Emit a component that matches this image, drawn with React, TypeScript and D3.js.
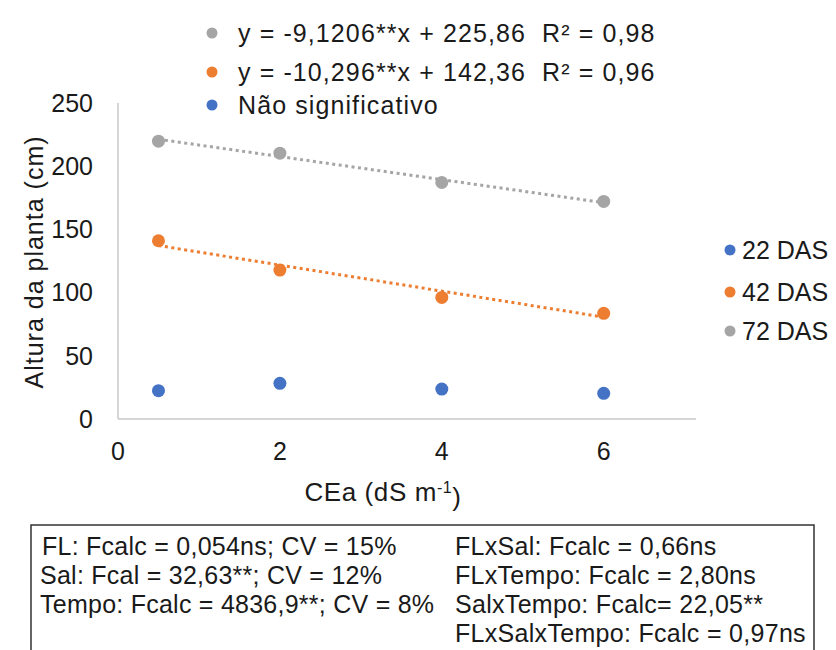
import React from "react";
import * as d3 from "d3";

const W = 836;
const H = 650;

const cea = [0.5, 2, 4, 6];
const das22 = [22.4, 28.2, 23.7, 20.3];
const das42 = [141.0, 117.8, 96.2, 83.6];
const das72 = [219.8, 210.3, 187.1, 172.1];

const seriesNames = ["22 DAS", "42 DAS", "72 DAS"];
const seriesColors = ["#4472C4", "#ED7D31", "#A5A5A5"];

// Linear fits (slope, intercept) for the significant series
const fit42 = [-10.296, 142.36];
const fit72 = [-9.1206, 225.86];

const xTicks = [0, 2, 4, 6];
const yTicks = [0, 50, 100, 150, 200, 250];

const eqLegend = [
  { text: "y = -9,1206**x + 225,86  R² = 0,98", color: "#A5A5A5" },
  { text: "y = -10,296**x + 142,36  R² = 0,96", color: "#ED7D31" },
  { text: "Não significativo", color: "#4472C4" },
];

const statsLeft = [
  "FL: Fcalc = 0,054ns; CV = 15%",
  "Sal: Fcal = 32,63**; CV = 12%",
  "Tempo: Fcalc = 4836,9**; CV = 8%",
];
const statsRight = [
  "FLxSal: Fcalc = 0,66ns",
  "FLxTempo: Fcalc = 2,80ns",
  "SalxTempo: Fcalc= 22,05**",
  "FLxSalxTempo: Fcalc = 0,97ns",
];

const FONT = "'Liberation Sans', Arial, sans-serif";
const FS = 25;

export default function App() {
  const x = d3.scaleLinear().domain([0, 7.14]).range([118, 696]);
  const y = d3.scaleLinear().domain([0, 250]).range([419, 103]);

  const series = [das22, das42, das72];
  const fits: [number[], string][] = [
    [fit72, seriesColors[2]],
    [fit42, seriesColors[1]],
  ];

  return (
    <div style={{ position: "absolute", left: 0, top: 0 }}>
      <svg width={W} height={H} style={{ display: "block", background: "#fff" }} fontFamily={FONT}>
        <rect x={0} y={0} width={W} height={H} fill="#fff" />

        {/* axes */}
        <line x1={x(0)} x2={x(0)} y1={y(250)} y2={y(0)} stroke="#C8C8C8" strokeWidth={1.5} />
        <line x1={x(0)} x2={x.range()[1]} y1={y(0)} y2={y(0)} stroke="#C8C8C8" strokeWidth={1.5} />

        {yTicks.map((t) => (
          <text key={"y" + t} x={93} y={y(t)} dy="0.35em" textAnchor="end" fontSize={FS} fill="#1a1a1a">
            {t}
          </text>
        ))}
        {xTicks.map((t) => (
          <text key={"x" + t} x={x(t)} y={451} dy="0.35em" textAnchor="middle" fontSize={FS} fill="#1a1a1a">
            {t}
          </text>
        ))}

        <text
          transform="translate(34,262) rotate(-90)"
          textAnchor="middle"
          dy="0.35em"
          fontSize={FS}
          letterSpacing={1}
          fill="#1a1a1a"
        >
          Altura da planta (cm)
        </text>
        <text x={383} y={492} dy="0.35em" textAnchor="middle" fontSize={26} letterSpacing={0.6} fill="#1a1a1a">
          CEa (dS m
          <tspan dy="-0.5em" fontSize={16}>-1</tspan>
          <tspan dy="0.5em">)</tspan>
        </text>

        {/* trendlines */}
        {fits.map(([f, c], i) => {
          const xs = [cea[0], cea[cea.length - 1]];
          const path = d3
            .line<number>()
            .x((d) => x(d))
            .y((d) => y(f[0] * d + f[1]))(xs);
          return (
            <path
              key={"fit" + i}
              d={path || ""}
              fill="none"
              stroke={c}
              strokeWidth={3}
              strokeDasharray="3,3.5"
            />
          );
        })}

        {/* points */}
        {series.map((vals, si) =>
          vals.map((v, i) => (
            <circle key={si + "-" + i} cx={x(cea[i])} cy={y(v)} r={6.5} fill={seriesColors[si]} />
          ))
        )}

        {/* equation legend */}
        {eqLegend.map((e, i) => {
          const cy = [33, 72, 105][i];
          return (
            <g key={"eq" + i}>
              <circle cx={212} cy={cy} r={5.5} fill={e.color} />
              <text
                x={238}
                y={cy}
                dy="0.35em"
                fontSize={FS}
                letterSpacing={1.1}
                fill="#1a1a1a"
                xmlSpace="preserve"
              >
                {e.text}
              </text>
            </g>
          );
        })}

        {/* series legend */}
        {seriesNames.map((n, i) => {
          const cy = [250, 292, 331][i];
          return (
            <g key={"lg" + i}>
              <circle cx={730} cy={cy} r={5.5} fill={seriesColors[i]} />
              <text x={742} y={cy} dy="0.35em" fontSize={FS} fill="#1a1a1a">
                {n}
              </text>
            </g>
          );
        })}

        {/* statistics box */}
        <path d={`M31,${H + 2} L31,525 L814,525 L814,${H + 2}`} fill="none" stroke="#333" strokeWidth={1.5} />
        {statsLeft.map((s, i) => (
          <text
            key={"sl" + i}
            x={i === 0 ? 42 : 40}
            y={546 + i * 29}
            dy="0.35em"
            fontSize={FS}
            letterSpacing={0.25}
            fill="#1a1a1a"
          >
            {s}
          </text>
        ))}
        {statsRight.map((s, i) => (
          <text
            key={"sr" + i}
            x={455}
            y={546 + i * 29}
            dy="0.35em"
            fontSize={FS}
            letterSpacing={0.3}
            fill="#1a1a1a"
          >
            {s}
          </text>
        ))}
      </svg>
    </div>
  );
}
